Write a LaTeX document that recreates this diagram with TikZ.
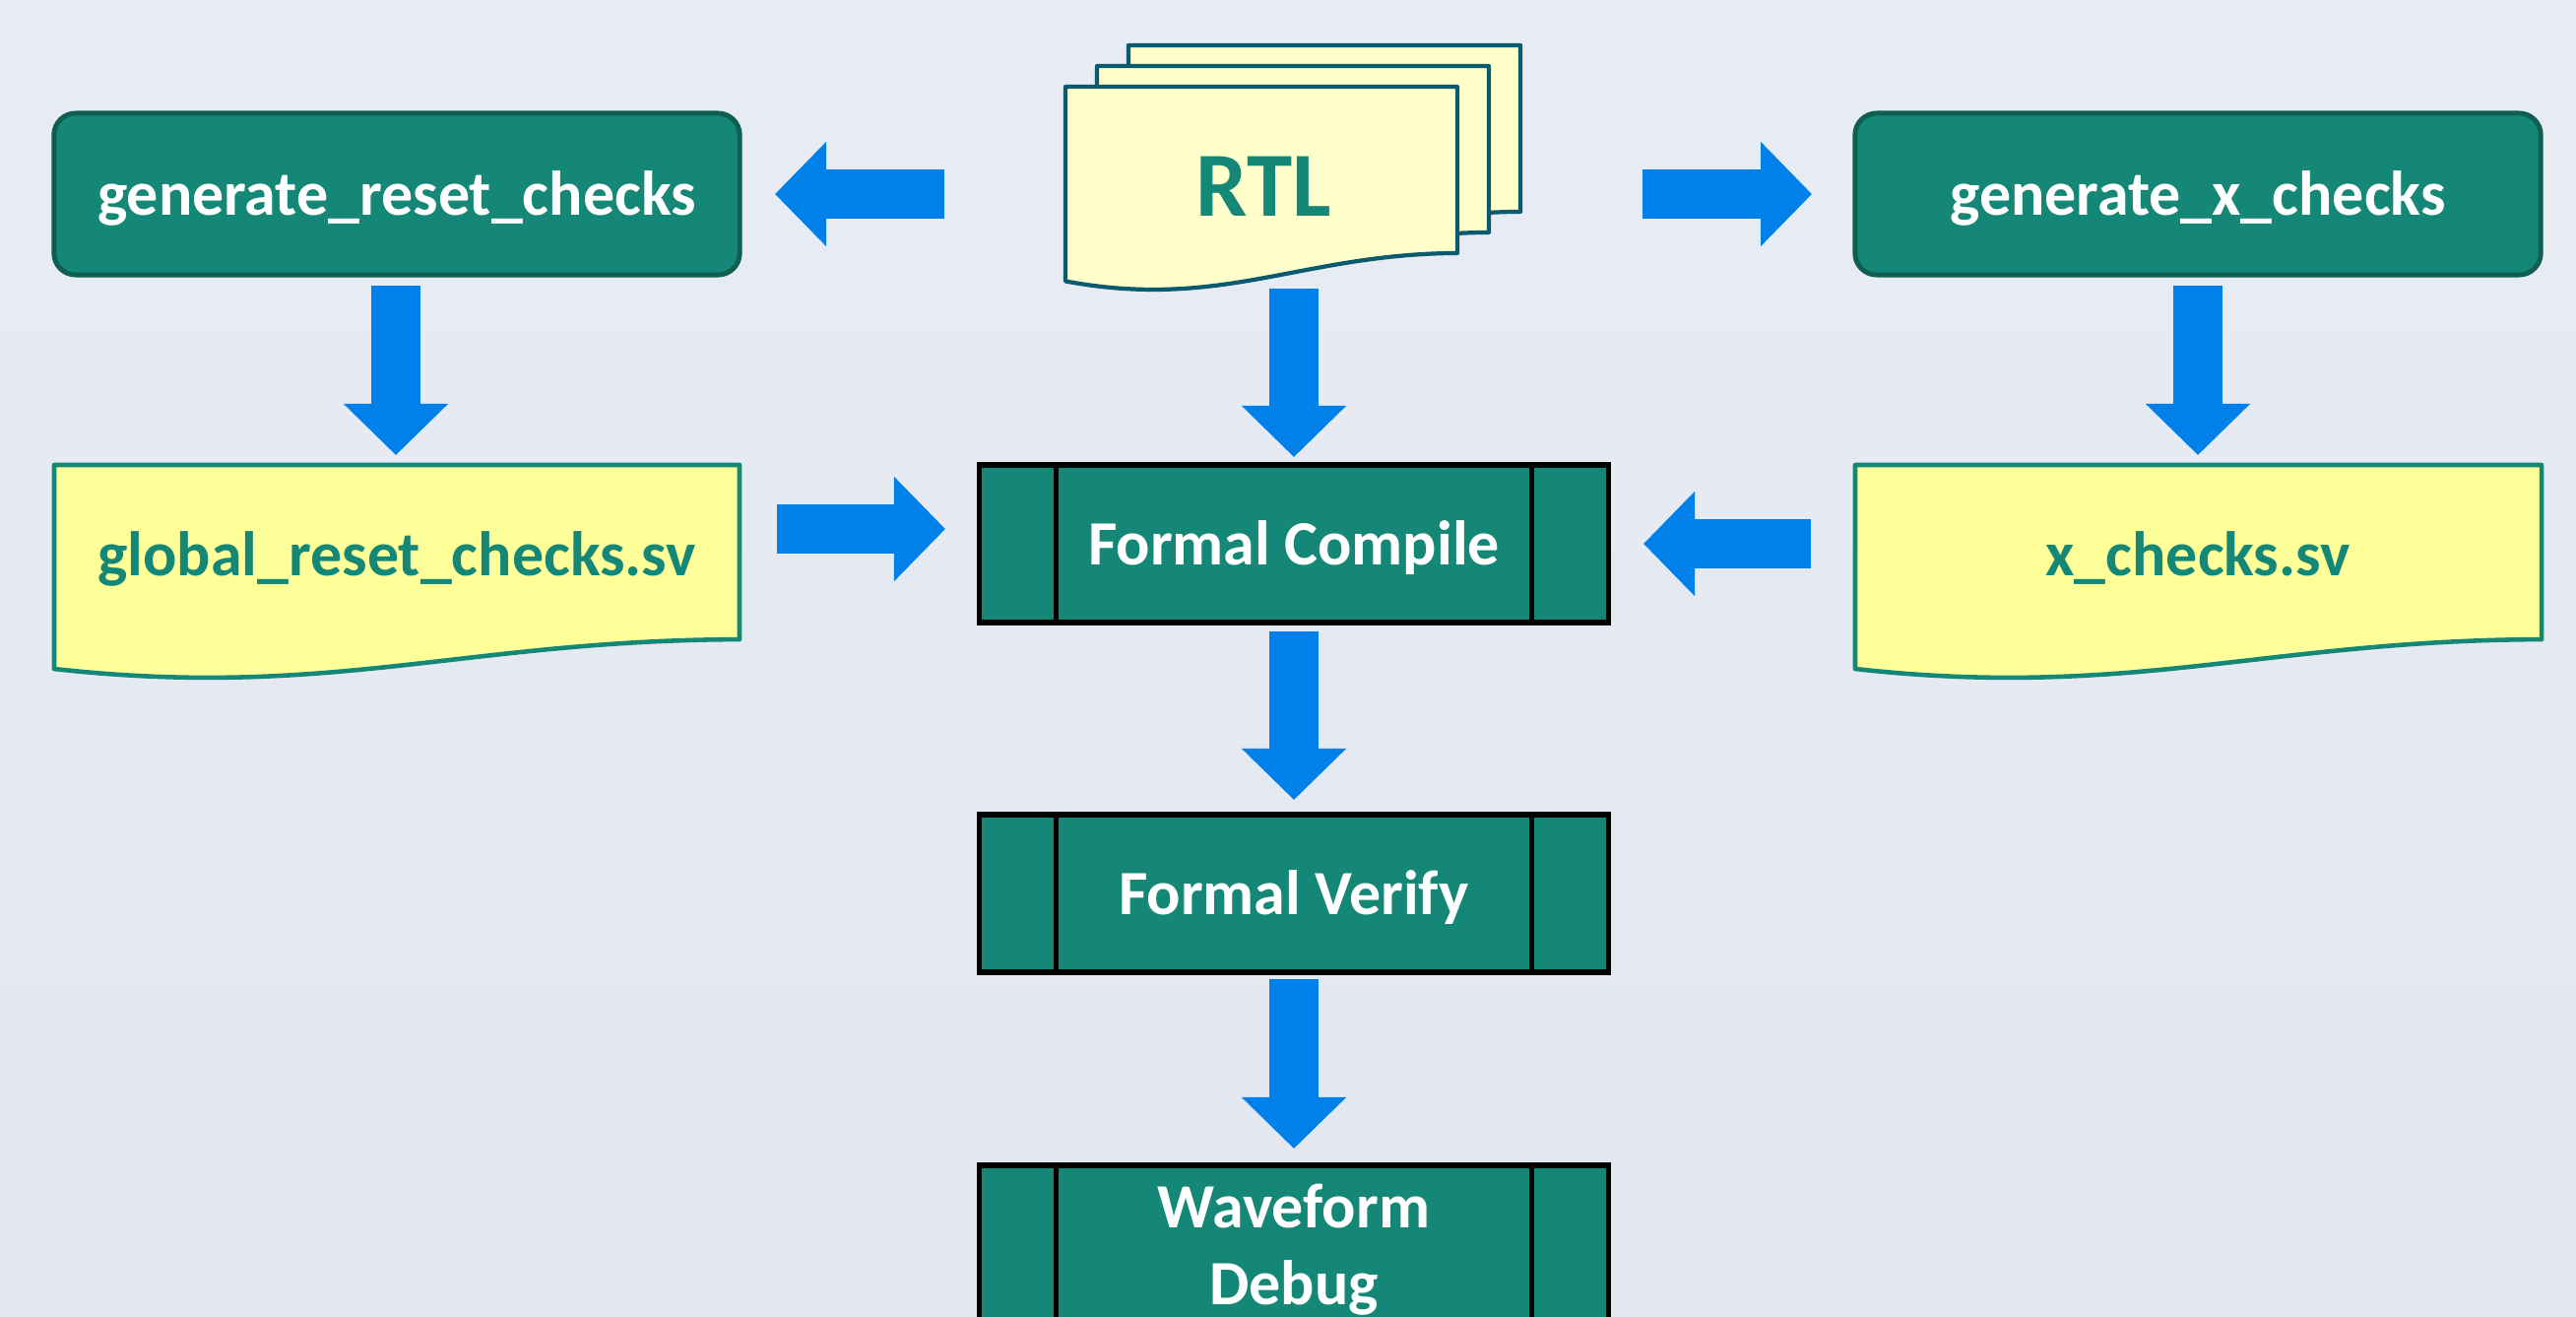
\documentclass[tikz,border=0pt]{standalone}
\usepackage{fontspec}
\setmainfont{Carlito}
\usetikzlibrary{arrows.meta}
\definecolor{bgtop}{HTML}{E8ECF5}
\definecolor{bgbot}{HTML}{E2E6EF}
\definecolor{teal}{HTML}{148776}
\definecolor{tealdark}{HTML}{0E5E52}
\definecolor{docfill}{HTML}{FFFF99}
\definecolor{rtlfill}{HTML}{FFFFCC}
\definecolor{rtlline}{HTML}{0B5A6E}
\definecolor{arrowblue}{HTML}{0080E9}
\newcommand{\lblfont}{\fontsize{18.2}{22.2}\selectfont\bfseries}
\newcommand{\rtlfont}{\fontsize{26.5}{30}\selectfont\bfseries}
% document shape: x0, y0, width, depth of the wave
\newcommand{\docpath}[4]{(#1,#2) -- (#1+#3,#2) -- (#1+#3,#2+0.816*#4)
  .. controls (#1+0.6*#3,#2+0.820*#4) and (#1+0.4*#3,#2+1.097*#4) .. (#1,#2+0.954*#4) -- cycle}
\tikzset{
  oneline/.style={text height=14pt, text depth=2pt},
  genbox/.style={rectangle, rounded corners=0.22cm, fill=teal, draw=tealdark,
    line width=1.4pt, minimum width=6.96cm, minimum height=1.64cm,
    text=white, font=\lblfont, inner sep=0pt, oneline},
  procbox/.style={rectangle, fill=teal, draw=black, line width=1.5pt,
    minimum width=6.38cm, minimum height=1.60cm, text=white,
    font=\lblfont, inner sep=0pt},
  proctext/.style={text=white, font=\lblfont, align=center, inner sep=0pt},
  procline/.style={draw=black, line width=1.5pt},
  docshape/.style={fill=docfill, draw=teal, line width=1.3pt, line join=round},
  rtlshape/.style={fill=rtlfill, draw=rtlline, line width=1.2pt, line join=round},
  doctext/.style={text=teal, font=\lblfont, inner sep=0pt, oneline},
  barrow/.style={draw=arrowblue, line width=0.5cm,
    -{Triangle[length=0.52cm,width=1.03cm]}}
}
\begin{document}
\begin{tikzpicture}[x=0.01cm, y=-0.01cm]
\useasboundingbox (0,0) rectangle (2616,1336);
\clip (0,0) rectangle (2616,1336);
\shade[top color=bgtop, bottom color=bgbot] (0,0) rectangle (2616,1336);

% RTL stack
\draw[rtlshape] \docpath{1146}{46}{398}{207};
\draw[rtlshape] \docpath{1114}{67}{398}{207};
\draw[rtlshape] \docpath{1082}{88}{398}{207};
\node[text=teal, font=\rtlfont, inner sep=0pt] (rtl) at (1283,189) {RTL};

% generator boxes
\node[genbox] (grc) at (403,197) {generate\_reset\_checks};
\node[genbox] (gxc) at (2232,197) {generate\_x\_checks};

% generated documents
\draw[docshape] \docpath{55}{472}{696}{217};
\node[doctext] (grd) at (403,563) {global\_reset\_checks.sv};
\draw[docshape] \docpath{1884}{472}{697}{217};
\node[doctext] (gxd) at (2232,563) {x\_checks.sv};

% process boxes
\node[procbox, oneline] (fc) at (1314,552) {Formal Compile};
\node[procbox, oneline] (fv) at (1314,907) {Formal Verify};
\node[procbox] (wd) at (1314,1263) {};
\node[proctext] (wdt) at (1314,1269) {Waveform\\Debug};
\foreach \n in {fc,fv,wd}{
  \draw[procline] ([xshift=0.80cm]\n.north west) -- ([xshift=0.80cm]\n.south west);
  \draw[procline] ([xshift=-0.80cm]\n.north east) -- ([xshift=-0.80cm]\n.south east);
}

% arrow end points
\coordinate (a1s) at (959,197);  \coordinate (a1e) at (787,197);
\coordinate (a2s) at (1668,197); \coordinate (a2e) at (1840,197);
\coordinate (a3s) at (402,290);  \coordinate (a3e) at (402,462);
\coordinate (a4s) at (1314,293); \coordinate (a4e) at (1314,464);
\coordinate (a5s) at (2232,290); \coordinate (a5e) at (2232,462);
\coordinate (a6s) at (789,537);  \coordinate (a6e) at (960,537);
\coordinate (a7s) at (1839,552); \coordinate (a7e) at (1669,552);
\coordinate (a8s) at (1314,641); \coordinate (a8e) at (1314,812);
\coordinate (a9s) at (1314,994); \coordinate (a9e) at (1314,1166);
\foreach \i in {1,...,9}{ \draw[barrow] (a\i s) -- (a\i e); }
\end{tikzpicture}
\end{document}
